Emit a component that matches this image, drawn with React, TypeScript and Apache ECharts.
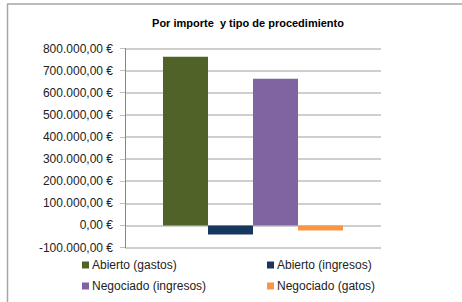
import React, { useEffect, useRef } from "react";
import * as echarts from "echarts";

const categories = ["Por importe y tipo de procedimiento"];
const seriesNames = ["Abierto (gastos)", "Abierto (ingresos)", "Negociado (ingresos)", "Negociado (gatos)"];
const abiertoGastos = [763000];
const abiertoIngresos = [-41000];
const negociadoIngresos = [663000];
const negociadoGatos = [-23000];
const seriesColors = ["#4F6228", "#17375E", "#8064A2", "#F79646"];
const titleText = "Por importe  y tipo de procedimiento";

function fmt(v: number): string {
  const neg = v < 0;
  const abs = Math.abs(v);
  const intPart = Math.floor(abs).toString().replace(/\B(?=(\d{3})+(?!\d))/g, ".");
  return (neg ? "-" : "") + intPart + ",00 €";
}

export default function App() {
  const ref = useRef<HTMLDivElement>(null);
  useEffect(() => {
    if (!ref.current) return;
    const chart = echarts.init(ref.current, null, { renderer: "svg" });
    const font = "'Liberation Sans', Arial, sans-serif";
    const values = [abiertoGastos, abiertoIngresos, negociadoIngresos, negociadoGatos];
    const legendPos = [
      { left: 82, top: 259 },
      { left: 267, top: 259 },
      { left: 82, top: 280 },
      { left: 267, top: 280 },
    ];
    chart.setOption({
      animation: false,
      textStyle: { fontFamily: font },
      graphic: [
        { type: "line", shape: { x1: 7.5, y1: 4, x2: 7.5, y2: 302 }, style: { stroke: "#a6a6a6", lineWidth: 1.5 } },
        { type: "line", shape: { x1: 7, y1: 4, x2: 462, y2: 4 }, style: { stroke: "#a6a6a6", lineWidth: 1.5 } },
        {
          type: "text",
          x: 248,
          y: 23,
          style: {
            text: titleText,
            fontFamily: font,
            fontWeight: "bold",
            fontSize: 11,
            fill: "#000",
            textAlign: "center",
            textVerticalAlign: "middle",
          },
        },
      ],
      legend: seriesNames.map((n, i) => ({
        data: [n],
        left: legendPos[i].left,
        top: legendPos[i].top,
        padding: 0,
        icon: "rect",
        itemWidth: 7,
        itemHeight: 7,
        textStyle: { fontFamily: font, fontSize: 12, color: "#222", padding: [0, 0, 0, -2] },
      })),
      grid: { left: 125, right: 81, top: 48.5, bottom: 54.5, containLabel: false },
      xAxis: {
        type: "category",
        data: categories,
        axisLabel: { show: false },
        axisTick: { show: false },
        axisLine: { show: false },
        splitLine: { show: false },
      },
      yAxis: {
        type: "value",
        min: -100000,
        max: 800000,
        interval: 100000,
        axisLine: { show: true, lineStyle: { color: "#868686", width: 1 } },
        axisTick: { show: true, length: 5, lineStyle: { color: "#bfbfbf" } },
        splitLine: { show: true, lineStyle: { color: "#bfbfbf", width: 1.5 } },
        axisLabel: {
          formatter: (v: number) => fmt(v),
          fontFamily: font,
          fontSize: 12,
          color: "#222",
          margin: 12,
        },
      },
      series: seriesNames.map((n, i) => ({
        type: "bar",
        name: n,
        data: values[i],
        barWidth: 45,
        barGap: "0%",
        itemStyle: { color: seriesColors[i] },
      })),
    });
    return () => chart.dispose();
  }, []);
  return (
    <div
      ref={ref}
      style={{ position: "absolute", left: 0, top: 0, width: 462, height: 302, background: "#fff" }}
    />
  );
}
